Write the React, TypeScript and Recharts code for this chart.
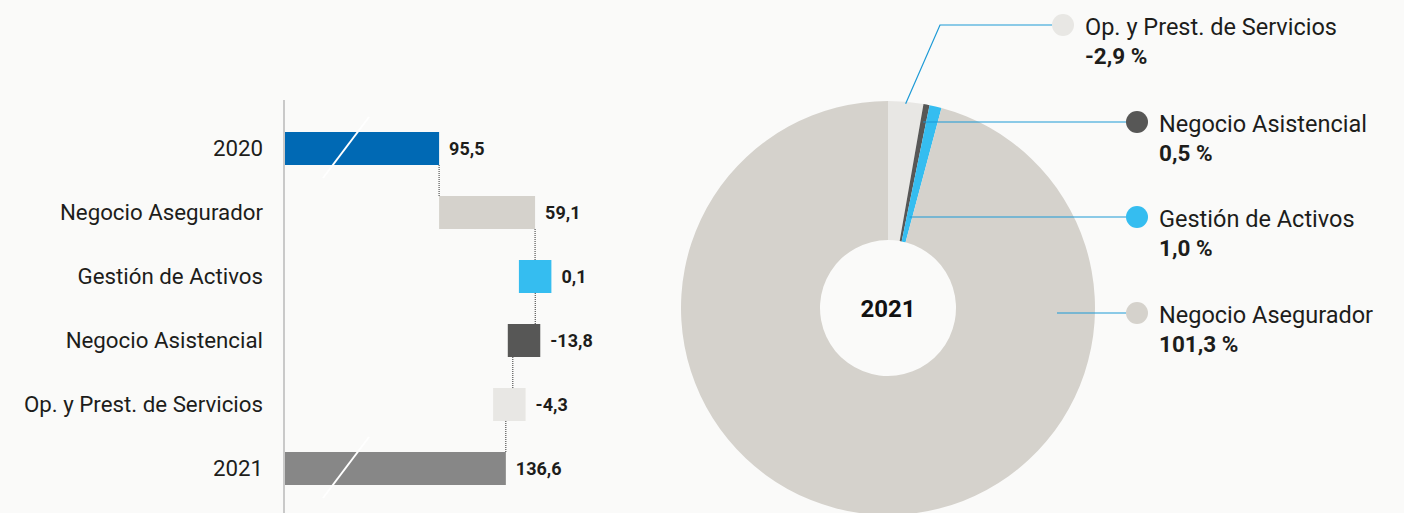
import React from 'react';
import { BarChart, Bar, XAxis, YAxis, LabelList, PieChart, Pie, Cell } from 'recharts';

// waterfall: 2020 -> 2021 by business line
const steps = ['2020', 'Negocio Asegurador', 'Gestión de Activos', 'Negocio Asistencial', 'Op. y Prest. de Servicios', '2021'];
const stepValues = [95.5, 59.1, 0.1, -13.8, -4.3, 136.6];
const stepIsTotal = [true, false, false, false, false, true];
const stepColors = ['#0069b4', '#d5d2cc', '#35bdf0', '#575756', '#e8e7e4', '#878787'];

// donut: 2021 share by business line
const shareNames = ['Op. y Prest. de Servicios', 'Negocio Asistencial', 'Gestión de Activos', 'Negocio Asegurador'];
const shareValues = [-2.9, 0.5, 1.0, 101.3];
const shareColors = ['#e8e7e4', '#575756', '#35bdf0', '#d5d2cc'];
const centerLabel = '2021';

const BG = '#fafaf9';
const TEXT = '#1d1d1b';
const FONT = 'Roboto, "Noto Sans", sans-serif';

const ROW = 64;
const BAR = 33;
const MIN_SPAN = 20; // small steps get a minimum visible width, as in the original

const fmt = (v: number) => v.toFixed(1).replace('.', ',');

let running = 0;
const waterfall = steps.map((name, i) => {
  const v = stepValues[i];
  let lo: number;
  let hi: number;
  if (stepIsTotal[i]) {
    running = v;
    lo = 0;
    hi = v;
  } else {
    const prev = running;
    running = prev + v;
    lo = Math.min(prev, running);
    hi = Math.max(prev, running);
    if (hi - lo < MIN_SPAN) {
      const mid = (lo + hi) / 2;
      lo = mid - MIN_SPAN / 2;
      hi = mid + MIN_SPAN / 2;
    }
  }
  return {
    name,
    value: v,
    range: [lo, hi],
    level: running,
    total: stepIsTotal[i],
    color: stepColors[i],
    last: i === steps.length - 1,
  };
});

const shareData = shareNames.map((name, i) => ({
  name,
  share: shareValues[i],
  value: Math.abs(shareValues[i]),
}));

// label placement around the donut, relative to its centre
const LABEL_POS = [
  { dx: 175, dy: -283, elbowDx: 52, startR: 205 },
  { dx: 249, dy: -186 },
  { dx: 249, dy: -91 },
  { dx: 249, dy: 5, startDx: 169 },
];

const WaterfallBar = (props: any) => {
  const { x, y, width, height, payload } = props;
  const [lo, hi] = payload.range;
  const linkX = x + ((payload.level - lo) / (hi - lo)) * width;
  return (
    <g>
      <rect x={x} y={y} width={width} height={height} fill={payload.color} />
      {payload.total && (
        <line x1={x + 39} y1={y + 46} x2={x + 85} y2={y - 15} stroke="#ffffff" strokeWidth={2} />
      )}
      {!payload.last && (
        <line
          x1={linkX}
          y1={y + height}
          x2={linkX}
          y2={y + ROW}
          stroke="#333"
          strokeWidth={1}
          strokeDasharray="1 1"
        />
      )}
    </g>
  );
};

const ShareLabel = (props: any) => {
  const { cx, cy, midAngle, index } = props;
  const pos = LABEL_POS[index];
  const rad = (midAngle * Math.PI) / 180;
  const dotX = cx + pos.dx;
  const dotY = cy + pos.dy;
  let sx: number;
  let sy: number;
  if (pos.startR) {
    sx = cx + pos.startR * Math.cos(rad);
    sy = cy - pos.startR * Math.sin(rad);
  } else if (pos.startDx) {
    sx = cx + pos.startDx;
    sy = dotY;
  } else {
    sx = cx + -pos.dy / Math.tan(rad);
    sy = dotY;
  }
  const pts = pos.elbowDx
    ? `${sx},${sy} ${cx + pos.elbowDx},${dotY} ${dotX - 11},${dotY}`
    : `${sx},${sy} ${dotX - 11},${dotY}`;
  const d = shareData[index];
  return (
    <g>
      {index === 0 && (
        <text
          x={cx}
          y={cy + 1}
          textAnchor="middle"
          dominantBaseline="central"
          fontSize={24}
          fontWeight={700}
          fill="#111"
          fontFamily={FONT}
        >
          {centerLabel}
        </text>
      )}
      <polyline points={pts} fill="none" stroke="#1d9ad6" strokeWidth={1.2} />
      <circle cx={dotX} cy={dotY} r={11} fill={shareColors[index]} />
      <text x={dotX + 22} y={dotY + 2} dominantBaseline="central" fontSize={23.5} fill={TEXT} fontFamily={FONT}>
        {d.name}
      </text>
      <text
        x={dotX + 22}
        y={dotY + 31}
        dominantBaseline="central"
        fontSize={22.5}
        fontWeight={700}
        fill={TEXT}
        fontFamily={FONT}
      >
        {fmt(d.share) + ' %'}
      </text>
    </g>
  );
};

export default function App() {
  return (
    <div
      style={{
        position: 'absolute',
        left: 0,
        top: 0,
        width: 1404,
        height: 513,
        background: BG,
        fontFamily: FONT,
        overflow: 'hidden',
      }}
    >
      <div style={{ position: 'absolute', left: 0, top: 0 }}>
        <BarChart
          width={690}
          height={513}
          data={waterfall}
          layout="vertical"
          margin={{ top: 100, right: 0, bottom: 0, left: 0 }}
        >
          <XAxis type="number" domain={[0, 250]} hide />
          <YAxis
            type="category"
            dataKey="name"
            width={284}
            padding={{ top: 16, bottom: 13 }}
            tickLine={false}
            tickSize={0}
            tickMargin={21}
            axisLine={{ stroke: '#c9c9c9', strokeWidth: 2 }}
            tick={{ fill: TEXT, fontSize: 22.3, fontFamily: FONT }}
            interval={0}
          />
          <Bar dataKey="range" barSize={BAR} shape={<WaterfallBar />} isAnimationActive={false}>
            <LabelList
              dataKey="value"
              position="right"
              offset={10}
              formatter={(v: any) => fmt(Number(v))}
              fill={TEXT}
              fontSize={18}
              fontWeight={700}
              fontFamily={FONT}
            />
          </Bar>
        </BarChart>
      </div>
      <div style={{ position: 'absolute', left: 600, top: 0 }}>
        <PieChart width={804} height={513} margin={{ top: 0, right: 0, bottom: 0, left: 0 }}>
          <Pie
            data={shareData}
            dataKey="value"
            nameKey="name"
            cx={288}
            cy={308}
            innerRadius={68}
            outerRadius={207}
            startAngle={90}
            endAngle={-270}
            stroke="none"
            label={ShareLabel}
            labelLine={false}
            isAnimationActive={false}
          >
            {shareData.map((d, i) => (
              <Cell key={d.name} fill={shareColors[i]} />
            ))}
          </Pie>
        </PieChart>
      </div>
    </div>
  );
}
